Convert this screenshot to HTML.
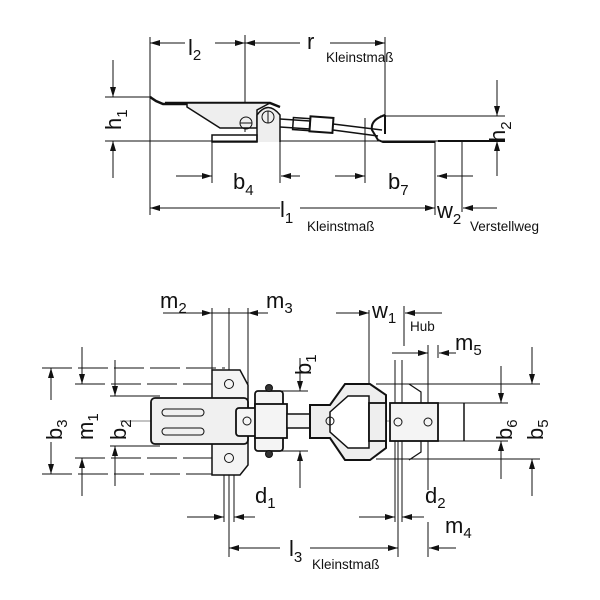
<!DOCTYPE html>
<html><head><style>
body{margin:0;background:#fff}
svg{display:block}
text{font-family:"Liberation Sans",sans-serif;fill:#111}
</style></head><body>
<svg width="600" height="600" viewBox="0 0 600 600" xmlns="http://www.w3.org/2000/svg">
<defs>
<marker id="a" viewBox="0 0 10 6" refX="10" refY="3" markerWidth="10" markerHeight="6" orient="auto" markerUnits="userSpaceOnUse"><path d="M0,0L10,3L0,6z" fill="#111"/></marker>
</defs>
<g stroke="#111" stroke-width="1" fill="none">
<line x1="150" y1="37" x2="150" y2="215"/>
<line x1="245" y1="35" x2="245" y2="132"/>
<line x1="385" y1="37" x2="385" y2="118"/>
<line x1="105" y1="97" x2="152" y2="97"/>
<line x1="105" y1="141" x2="505" y2="141"/>
<line x1="380" y1="116" x2="505" y2="116"/>
<line x1="212" y1="141" x2="212" y2="183"/>
<line x1="280" y1="120" x2="280" y2="183"/>
<line x1="365" y1="118" x2="365" y2="183"/>
<line x1="435" y1="141" x2="435" y2="215"/>
<line x1="462" y1="140" x2="462" y2="212"/>
<line x1="185" y1="43" x2="150" y2="43" marker-end="url(#a)"/>
<line x1="215" y1="43" x2="245" y2="43" marker-end="url(#a)"/>
<line x1="300" y1="43" x2="245" y2="43" marker-end="url(#a)"/>
<line x1="330" y1="43" x2="385" y2="43" marker-end="url(#a)"/>
<line x1="113" y1="60" x2="113" y2="97" marker-end="url(#a)"/>
<line x1="113" y1="178" x2="113" y2="141" marker-end="url(#a)"/>
<line x1="497" y1="80" x2="497" y2="116" marker-end="url(#a)"/>
<line x1="497" y1="176" x2="497" y2="141" marker-end="url(#a)"/>
<line x1="176" y1="176" x2="212" y2="176" marker-end="url(#a)"/>
<line x1="300" y1="176" x2="281" y2="176" marker-end="url(#a)"/>
<line x1="335" y1="176" x2="365" y2="176" marker-end="url(#a)"/>
<line x1="473" y1="176" x2="437" y2="176" marker-end="url(#a)"/>
<line x1="280" y1="208" x2="150" y2="208" marker-end="url(#a)"/>
<line x1="300" y1="208" x2="435" y2="208" marker-end="url(#a)"/>
<line x1="497" y1="208" x2="463" y2="208" marker-end="url(#a)"/>
<path d="M150,97 L156,101 L163,104 L225,104 M165,103 L270,103 L280,107" stroke-width="2.5"/>
<path d="M187,107 L220,128 L257,128 L257,110 L270,103 L187,103 Z" fill="#eee" stroke-width="1.5"/>
<path d="M257,142 L257,115 Q268,100 280,115 L280,142" fill="#eee" stroke-width="1.5"/>
<circle cx="246" cy="123" r="6"/>
<circle cx="268" cy="117" r="6"/>
<line x1="240" y1="123" x2="252" y2="123"/>
<line x1="268" y1="111" x2="268" y2="123"/>
<rect x="212" y="135" width="45" height="7" stroke-width="1.5"/>
<path d="M280,119 L310,121 M280,127 L310,129 M333,124 L382,130 M333,130 L378,136" stroke-width="1.5"/>
<rect x="293" y="118" width="17" height="12" transform="rotate(4 300 124)" stroke-width="1.5"/>
<rect x="310" y="117" width="23" height="15" transform="rotate(4 320 124)" stroke-width="2"/>
<path d="M385,115 Q370,120 372,130 L378,140 L383,142 L435,142 M385,115 L385,134" stroke-width="2"/>
<line x1="438" y1="141" x2="505" y2="141" stroke-width="2"/>

<line x1="212" y1="308" x2="212" y2="380"/>
<line x1="229" y1="308" x2="229" y2="557"/>
<line x1="248" y1="308" x2="248" y2="400"/>
<line x1="369" y1="310" x2="369" y2="400"/>
<line x1="404" y1="306" x2="404" y2="346"/>
<line x1="428" y1="345" x2="428" y2="490"/>
<line x1="438" y1="345" x2="438" y2="358"/>
<line x1="224" y1="440" x2="224" y2="522"/>
<line x1="234" y1="440" x2="234" y2="522"/>
<line x1="395" y1="360" x2="395" y2="522"/>
<line x1="402" y1="360" x2="402" y2="522"/>
<line x1="398" y1="440" x2="398" y2="557"/>
<line x1="428" y1="522" x2="428" y2="557"/>
<line x1="42" y1="368" x2="225" y2="368" stroke-dasharray="30 6"/>
<line x1="42" y1="474" x2="225" y2="474" stroke-dasharray="30 6"/>
<line x1="75" y1="384" x2="225" y2="384" stroke-dasharray="30 6"/>
<line x1="75" y1="458" x2="225" y2="458" stroke-dasharray="30 6"/>
<line x1="110" y1="396" x2="160" y2="396"/>
<line x1="110" y1="446" x2="160" y2="446"/>
<line x1="270" y1="391" x2="308" y2="391"/>
<line x1="270" y1="451" x2="308" y2="451"/>
<line x1="376" y1="384" x2="540" y2="384"/>
<line x1="376" y1="459" x2="540" y2="459"/>
<line x1="438" y1="403" x2="508" y2="403"/>
<line x1="438" y1="441" x2="508" y2="441"/>
<line x1="120" y1="421" x2="395" y2="421" stroke-width="0.6"/>
<line x1="163" y1="313" x2="212" y2="313" marker-end="url(#a)"/>
<line x1="212" y1="313" x2="248" y2="313"/>
<line x1="268" y1="313" x2="248" y2="313" marker-end="url(#a)"/>
<line x1="336" y1="313" x2="369" y2="313" marker-end="url(#a)"/>
<line x1="442" y1="313" x2="405" y2="313" marker-end="url(#a)"/>
<line x1="392" y1="353" x2="428" y2="353" marker-end="url(#a)"/>
<line x1="456" y1="353" x2="439" y2="353" marker-end="url(#a)"/>
<line x1="51" y1="400" x2="51" y2="368" marker-end="url(#a)"/>
<line x1="51" y1="442" x2="51" y2="474" marker-end="url(#a)"/>
<line x1="82" y1="347" x2="82" y2="384" marker-end="url(#a)"/>
<line x1="82" y1="496" x2="82" y2="458" marker-end="url(#a)"/>
<line x1="115" y1="360" x2="115" y2="396" marker-end="url(#a)"/>
<line x1="115" y1="486" x2="115" y2="446" marker-end="url(#a)"/>
<line x1="300" y1="358" x2="300" y2="391" marker-end="url(#a)"/>
<line x1="300" y1="488" x2="300" y2="451" marker-end="url(#a)"/>
<line x1="532" y1="347" x2="532" y2="384" marker-end="url(#a)"/>
<line x1="532" y1="496" x2="532" y2="459" marker-end="url(#a)"/>
<line x1="501" y1="366" x2="501" y2="403" marker-end="url(#a)"/>
<line x1="501" y1="479" x2="501" y2="441" marker-end="url(#a)"/>
<line x1="187" y1="517" x2="224" y2="517" marker-end="url(#a)"/>
<line x1="255" y1="517" x2="234" y2="517" marker-end="url(#a)"/>
<line x1="359" y1="517" x2="395" y2="517" marker-end="url(#a)"/>
<line x1="424" y1="517" x2="402" y2="517" marker-end="url(#a)"/>
<line x1="456" y1="548" x2="429" y2="548" marker-end="url(#a)"/>
<line x1="280" y1="548" x2="229" y2="548" marker-end="url(#a)"/>
<line x1="310" y1="548" x2="398" y2="548" marker-end="url(#a)"/>
<path d="M212,370 L240,370 L248,385 L248,465 L240,475 L212,475 Z" fill="#f4f4f4" stroke-width="1.5"/>
<rect x="151" y="398" width="97" height="46" rx="4" fill="#f0f0f0" stroke-width="1.8"/>
<rect x="162" y="409" width="42" height="7" rx="3.5"/>
<rect x="162" y="428" width="42" height="7" rx="3.5"/>
<circle cx="229" cy="384" r="4.5"/>
<circle cx="229" cy="458" r="4.5"/>
<rect x="255" y="391" width="28" height="60" rx="3" fill="#f4f4f4" stroke-width="1.8"/>
<rect x="236" y="408" width="22" height="28" rx="3" fill="#f4f4f4" stroke-width="1.8"/>
<rect x="255" y="404" width="32" height="34" fill="#f4f4f4" stroke-width="1.8"/>
<circle cx="269" cy="388" r="3.5" fill="#333"/>
<circle cx="269" cy="454" r="3.5" fill="#333"/>
<circle cx="247" cy="421" r="4"/>
<rect x="287" y="414" width="23" height="14" fill="#f4f4f4" stroke-width="1.5"/>
<path d="M310,405 L330,405 L345,384 L370,384 L386,395 L386,448 L370,460 L345,460 L330,438 L310,438 Z" fill="#eee" stroke-width="2"/>
<path d="M330,412 L348,396 L369,396 L369,448 L348,448 L330,432 Z" fill="#fff" stroke-width="1.5"/>
<circle cx="330" cy="421" r="4"/>
<rect x="369" y="403" width="17" height="38" fill="#eee" stroke-width="1.8"/>
<path d="M409,384 L421,392 L421,452 L409,460" stroke-width="1.2"/>
<rect x="390" y="403" width="48" height="38" fill="#f4f4f4" stroke-width="1.8"/>
<line x1="464" y1="403" x2="464" y2="441" stroke-width="1.5"/>
<circle cx="398" cy="422" r="4"/>
<circle cx="428" cy="422" r="4"/>
</g>
<g font-size="22">
<text x="188" y="55">l<tspan font-size="15" dy="5">2</tspan></text>
<text x="307" y="49">r</text>
<text x="233" y="189">b<tspan font-size="15" dy="6">4</tspan></text>
<text x="388" y="189">b<tspan font-size="15" dy="6">7</tspan></text>
<text x="280" y="217">l<tspan font-size="15" dy="6">1</tspan></text>
<text x="437" y="218">w<tspan font-size="15" dy="6">2</tspan></text>
<text transform="translate(121,130) rotate(-90)">h<tspan font-size="15" dy="6">1</tspan></text>
<text transform="translate(505,142) rotate(-90)">h<tspan font-size="15" dy="6">2</tspan></text>
<text x="160" y="308">m<tspan font-size="15" dy="5">2</tspan></text>
<text x="266" y="308">m<tspan font-size="15" dy="5">3</tspan></text>
<text x="372" y="318">w<tspan font-size="15" dy="5">1</tspan></text>
<text x="455" y="350">m<tspan font-size="15" dy="5">5</tspan></text>
<text x="255" y="503">d<tspan font-size="15" dy="5">1</tspan></text>
<text x="425" y="503">d<tspan font-size="15" dy="5">2</tspan></text>
<text x="445" y="533">m<tspan font-size="15" dy="5">4</tspan></text>
<text x="289" y="556">l<tspan font-size="15" dy="6">3</tspan></text>
<text transform="translate(62,440) rotate(-90)">b<tspan font-size="15" dy="5">3</tspan></text>
<text transform="translate(93,440) rotate(-90)">m<tspan font-size="15" dy="5">1</tspan></text>
<text transform="translate(126,440) rotate(-90)">b<tspan font-size="15" dy="5">2</tspan></text>
<text transform="translate(311,375) rotate(-90)">b<tspan font-size="15" dy="5">1</tspan></text>
<text transform="translate(512,440) rotate(-90)">b<tspan font-size="15" dy="5">6</tspan></text>
<text transform="translate(543,440) rotate(-90)">b<tspan font-size="15" dy="5">5</tspan></text>
</g>
<g font-size="13.5">
<text x="326" y="62">Kleinstmaß</text>
<text x="307" y="231">Kleinstmaß</text>
<text x="470" y="231">Verstellweg</text>
<text x="410" y="331">Hub</text>
<text x="312" y="569">Kleinstmaß</text>
</g>
</svg>
</body></html>
